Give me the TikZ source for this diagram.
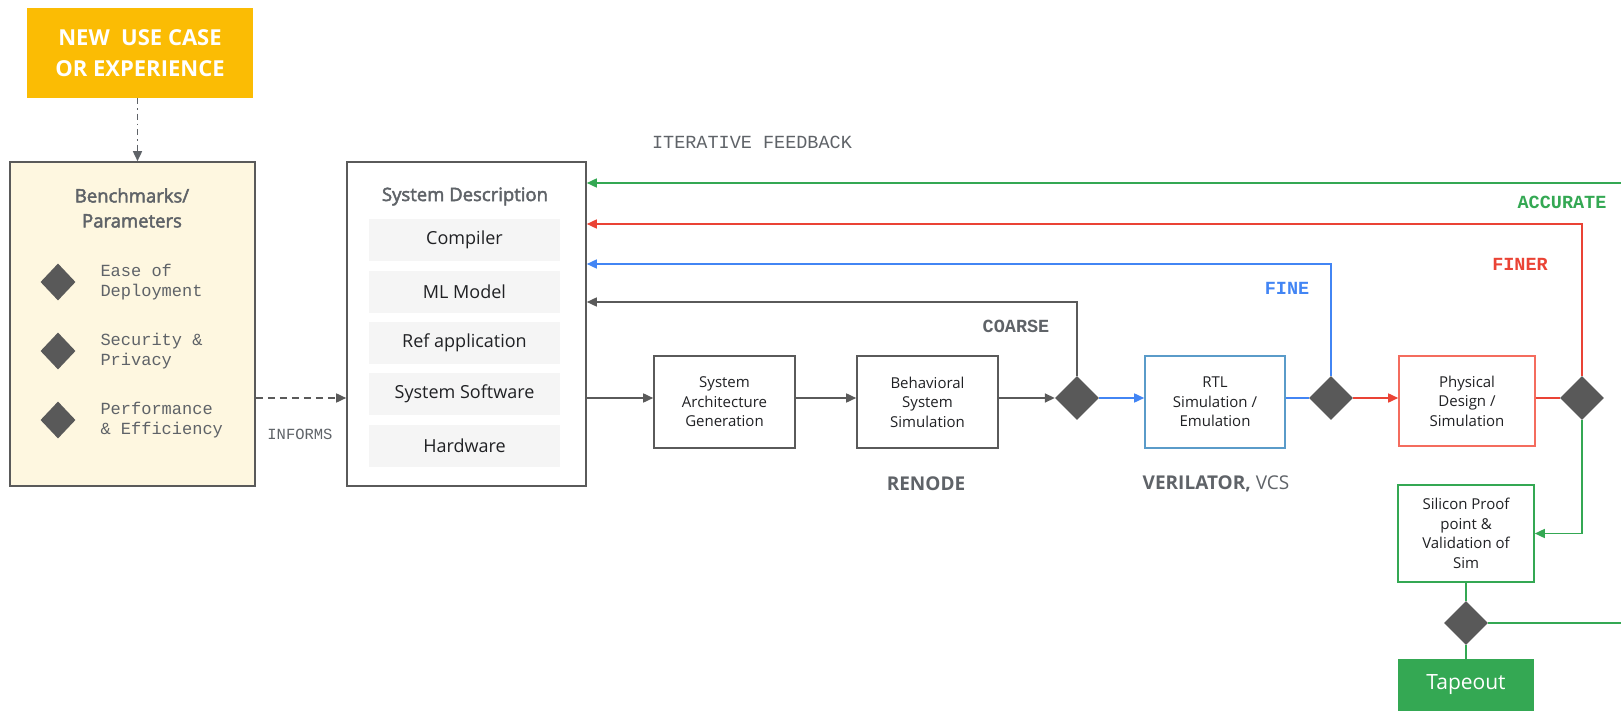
\documentclass[tikz,border=0pt]{standalone}
\usepackage{fontspec}
\setmainfont{Open Sans}
\setmonofont{Liberation Mono}
\newfontfamily\semibold[FakeBold=2.5]{Open Sans}
\usetikzlibrary{arrows.meta,shapes.geometric}
\definecolor{gyellow}{HTML}{FBBC04}
\definecolor{cream}{HTML}{FEF7E0}
\definecolor{boxgray}{HTML}{5A5A5A}
\definecolor{diagray}{HTML}{595959}
\definecolor{txtgray}{HTML}{5F6368}
\definecolor{txtblack}{HTML}{202124}
\definecolor{itemgray}{HTML}{F5F5F5}
\definecolor{ggreen}{HTML}{34A853}
\definecolor{gred}{HTML}{EA4335}
\definecolor{gblue}{HTML}{4285F4}
\definecolor{rtlblue}{HTML}{5A9BC9}
\definecolor{physred}{HTML}{F46C5E}
\tikzset{
  flowbox/.style={draw=boxgray, line width=1.6pt, fill=white, align=center, text=txtblack,
    minimum width=141pt, minimum height=92pt, inner sep=0pt, font=\fontsize{15}{19.5}\selectfont},
  item/.style={fill=itemgray, minimum width=191pt, minimum height=42pt, inner sep=0pt,
    text=txtblack, font=\fontsize{18}{22}\selectfont},
  dec/.style={diamond, fill=diagray, inner sep=0pt, minimum width=44pt, minimum height=44pt},
  smalldec/.style={dec, minimum width=35pt, minimum height=37pt},
  link/.style={line width=1.6pt, -{Triangle[length=10pt,width=9pt]}},
  plain/.style={line width=1.6pt},
  tag/.style={font=\ttfamily\bfseries\fontsize{18.5}{20}\selectfont},
  note/.style={font=\ttfamily\fontsize{17}{20.5}\selectfont, text=txtgray, align=left, anchor=west},
}
\begin{document}
\begin{tikzpicture}[x=1pt,y=-1pt]
\useasboundingbox (0,0) rectangle (1621,711);
\node[fill=gyellow, minimum width=226pt, minimum height=90pt, align=center, text=white,
  font=\bfseries\fontsize{22}{31}\selectfont] (usecase) at (140,53) {NEW\ \ USE CASE\\OR EXPERIENCE};
\node[draw=boxgray, line width=1.6pt, fill=cream, minimum width=245pt, minimum height=324pt] (bench) at (132.5,324) {};
\node[align=center, text=txtgray, font=\semibold\fontsize{18.5}{25}\selectfont] (benchtitle) at (132,208) {Benchmarks/\\Parameters};
\foreach \y/\n/\t in {282/a/{Ease of\\Deployment}, 351/b/{Security \&\\Privacy}, 420/c/{Performance\\\& Efficiency}}{
  \node[smalldec] (d\n) at (58,\y) {};
  \node[note] (t\n) at (97,\y) {\t};
}
\node[draw=boxgray, line width=1.6pt, fill=white, minimum width=239pt, minimum height=324pt] (sysdesc) at (466.5,324) {};
\node[text=txtgray, font=\semibold\fontsize{18.5}{22}\selectfont] (sdtitle) at (465,196.5) {System Description};
\node[item] (compiler) at (464.5,240) {Compiler};
\node[item] (mlmodel) at (464.5,291.5) {ML Model};
\node[item] (refapp) at (464.5,343) {Ref application};
\node[item] (syssw) at (464.5,394) {System Software};
\node[item] (hw) at (464.5,446) {Hardware};
\node[flowbox] (arch) at (724.5,402) {System\\Architecture\\Generation};
\node[flowbox] (behav) at (927.5,402) {Behavioral\\System\\Simulation};
\node[dec] (d1) at (1077,398) {};
\node[flowbox, draw=rtlblue, minimum width=140pt] (rtl) at (1215,402) {RTL\\Simulation /\\Emulation};
\node[dec] (d2) at (1331,398) {};
\node[flowbox, draw=physred, minimum width=136pt, minimum height=90pt] (phys) at (1467,401) {Physical\\Design /\\Simulation};
\node[dec] (d3) at (1582,398) {};
\node[flowbox, draw=ggreen, minimum width=136pt, minimum height=97pt] (silicon) at (1466,533.5) {Silicon Proof\\point \&\\Validation of\\Sim};
\node[dec] (d4) at (1466,623) {};
\node[fill=ggreen, minimum width=136pt, minimum height=52pt, text=white, font=\fontsize{21}{24}\selectfont] (tapeout) at (1466,685) {Tapeout};
\coordinate (rimtop) at (1621,183);
\coordinate (rimlow) at (1621,623);
\draw[txtgray, line width=1.6pt, dash pattern=on 6pt off 4pt on 1.5pt off 4pt, -{Triangle[length=10pt,width=9pt]}] ([xshift=-2.5pt]usecase.south) -- ([xshift=-2.5pt]usecase.south |- bench.north);
\draw[link, boxgray, dash pattern=on 7pt off 5pt] (bench.east |- d1) -- (sysdesc.west |- d1);
\draw[link, boxgray] (sysdesc.east |- d1) -- (arch.west |- d1);
\draw[link, boxgray] (arch.east |- d1) -- (behav.west |- d1);
\draw[link, boxgray] (behav.east |- d1) -- (d1.west);
\draw[link, gblue] (d1.east) -- (rtl.west |- d1);
\draw[plain, gblue] (rtl.east |- d2) -- (d2.west);
\draw[link, gred] (d2.east) -- (phys.west |- d2);
\draw[plain, gred] (phys.east |- d3) -- (d3.west);
\draw[link, boxgray] (d1.north) |- ([yshift=22pt]sysdesc.east);
\draw[link, gblue] (d2.north) |- ([yshift=60pt]sysdesc.east);
\draw[link, gred] (d3.north) |- ([yshift=100pt]sysdesc.east);
\draw[link, ggreen] (rimtop) -- (sysdesc.east |- rimtop);
\draw[link, ggreen] (d3.south) |- (silicon.east);
\draw[plain, ggreen] (silicon.south) -- (d4.north);
\draw[plain, ggreen] (d4.south) -- (tapeout.north);
\draw[plain, ggreen] (d4.east) -- (rimlow);
\node[text=txtgray, font=\ttfamily\fontsize{18.5}{20}\selectfont] (iterfb) at (752,142) {ITERATIVE FEEDBACK};
\node[tag, text=ggreen] (accurate) at (1562,202) {ACCURATE};
\node[tag, text=gred] (finer) at (1520,264) {FINER};
\node[tag, text=gblue] (fine) at (1287,288) {FINE};
\node[tag, text=txtgray] (coarse) at (1016,326) {COARSE};
\node[text=txtgray, font=\ttfamily\fontsize{15.5}{18}\selectfont] (informs) at (300,434) {INFORMS};
\node[text=txtgray, font=\bfseries\fontsize{19}{22}\selectfont] (renode) at (926,484) {RENODE};
\node[text=txtgray, font=\fontsize{19}{22}\selectfont] (verilator) at (1216,484) {\textbf{VERILATOR,} VCS};
\end{tikzpicture}
\end{document}
